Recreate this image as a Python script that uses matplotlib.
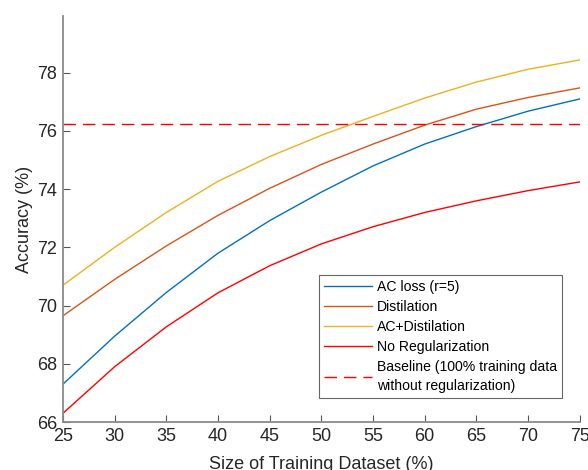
import numpy as np
import matplotlib
matplotlib.use("Agg")
import matplotlib.pyplot as plt

plt.rcParams['font.family'] = ['Liberation Sans', 'DejaVu Sans']

# training set size (%)
sizes = [25, 30, 35, 40, 45, 50, 55, 60, 65, 70, 75]

ac_loss = [67.3, 68.95, 70.45, 71.8, 72.92, 73.9, 74.8, 75.55, 76.15, 76.68, 77.1]
distil = [69.65, 70.9, 72.05, 73.1, 74.03, 74.85, 75.55, 76.2, 76.75, 77.15, 77.48]
ac_distil = [70.7, 72.0, 73.2, 74.27, 75.12, 75.85, 76.5, 77.13, 77.68, 78.12, 78.44]
no_reg = [66.3, 67.9, 69.27, 70.44, 71.37, 72.12, 72.71, 73.2, 73.6, 73.95, 74.25]
baseline = 76.24

labels = ['AC loss (r=5)', 'Distilation', 'AC+Distilation', 'No Regularization',
          'Baseline (100% training data\nwithout regularization)']

fig = plt.figure(figsize=(5.88, 4.7), dpi=100)
ax = fig.add_axes([0.107, 0.102, 0.879, 0.864])

ax.plot(sizes, ac_loss, color='#0072BD', lw=1.0, label=labels[0])
ax.plot(sizes, distil, color='#D95319', lw=1.0, label=labels[1])
ax.plot(sizes, ac_distil, color='#EDB120', lw=1.0, label=labels[2])
ax.plot(sizes, no_reg, color='#FF0000', lw=1.0, label=labels[3])
ax.plot([sizes[0], sizes[-1]], [baseline, baseline], color='#FF0000', lw=1.0,
        dashes=(9, 5), label=labels[4])

ax.set_xlim(25, 75)
ax.set_ylim(66, 79.95)
ax.set_xticks(range(25, 80, 5))
ax.set_yticks(range(66, 80, 2))

for s in ['top', 'right']:
    ax.spines[s].set_visible(False)
for s in ['left', 'bottom']:
    ax.spines[s].set_color('#8a8a8a')
    ax.spines[s].set_linewidth(1.3)
ax.tick_params(direction='in', length=5, width=0.8, color='#555555',
               labelsize=13, labelcolor='#262626', pad=4)

# x label sits partly below the figure edge, as in the original
ax.set_xlabel('Size of Training Dataset (%)', fontsize=13, color='#262626', labelpad=8)
ax.set_ylabel('Accuracy (%)', fontsize=13, color='#262626', labelpad=3)

leg = ax.legend(loc='lower right', bbox_to_anchor=(0.965, 0.059), fontsize=10.1,
                frameon=True, fancybox=False, handlelength=3.4, handletextpad=0.35,
                labelspacing=0.42, borderpad=0.35, borderaxespad=0)
leg.get_frame().set_edgecolor('#404040')
leg.get_frame().set_linewidth(0.8)
for t in leg.get_texts():
    t.set_linespacing(1.5)

fig.savefig('out.png', dpi=100)
